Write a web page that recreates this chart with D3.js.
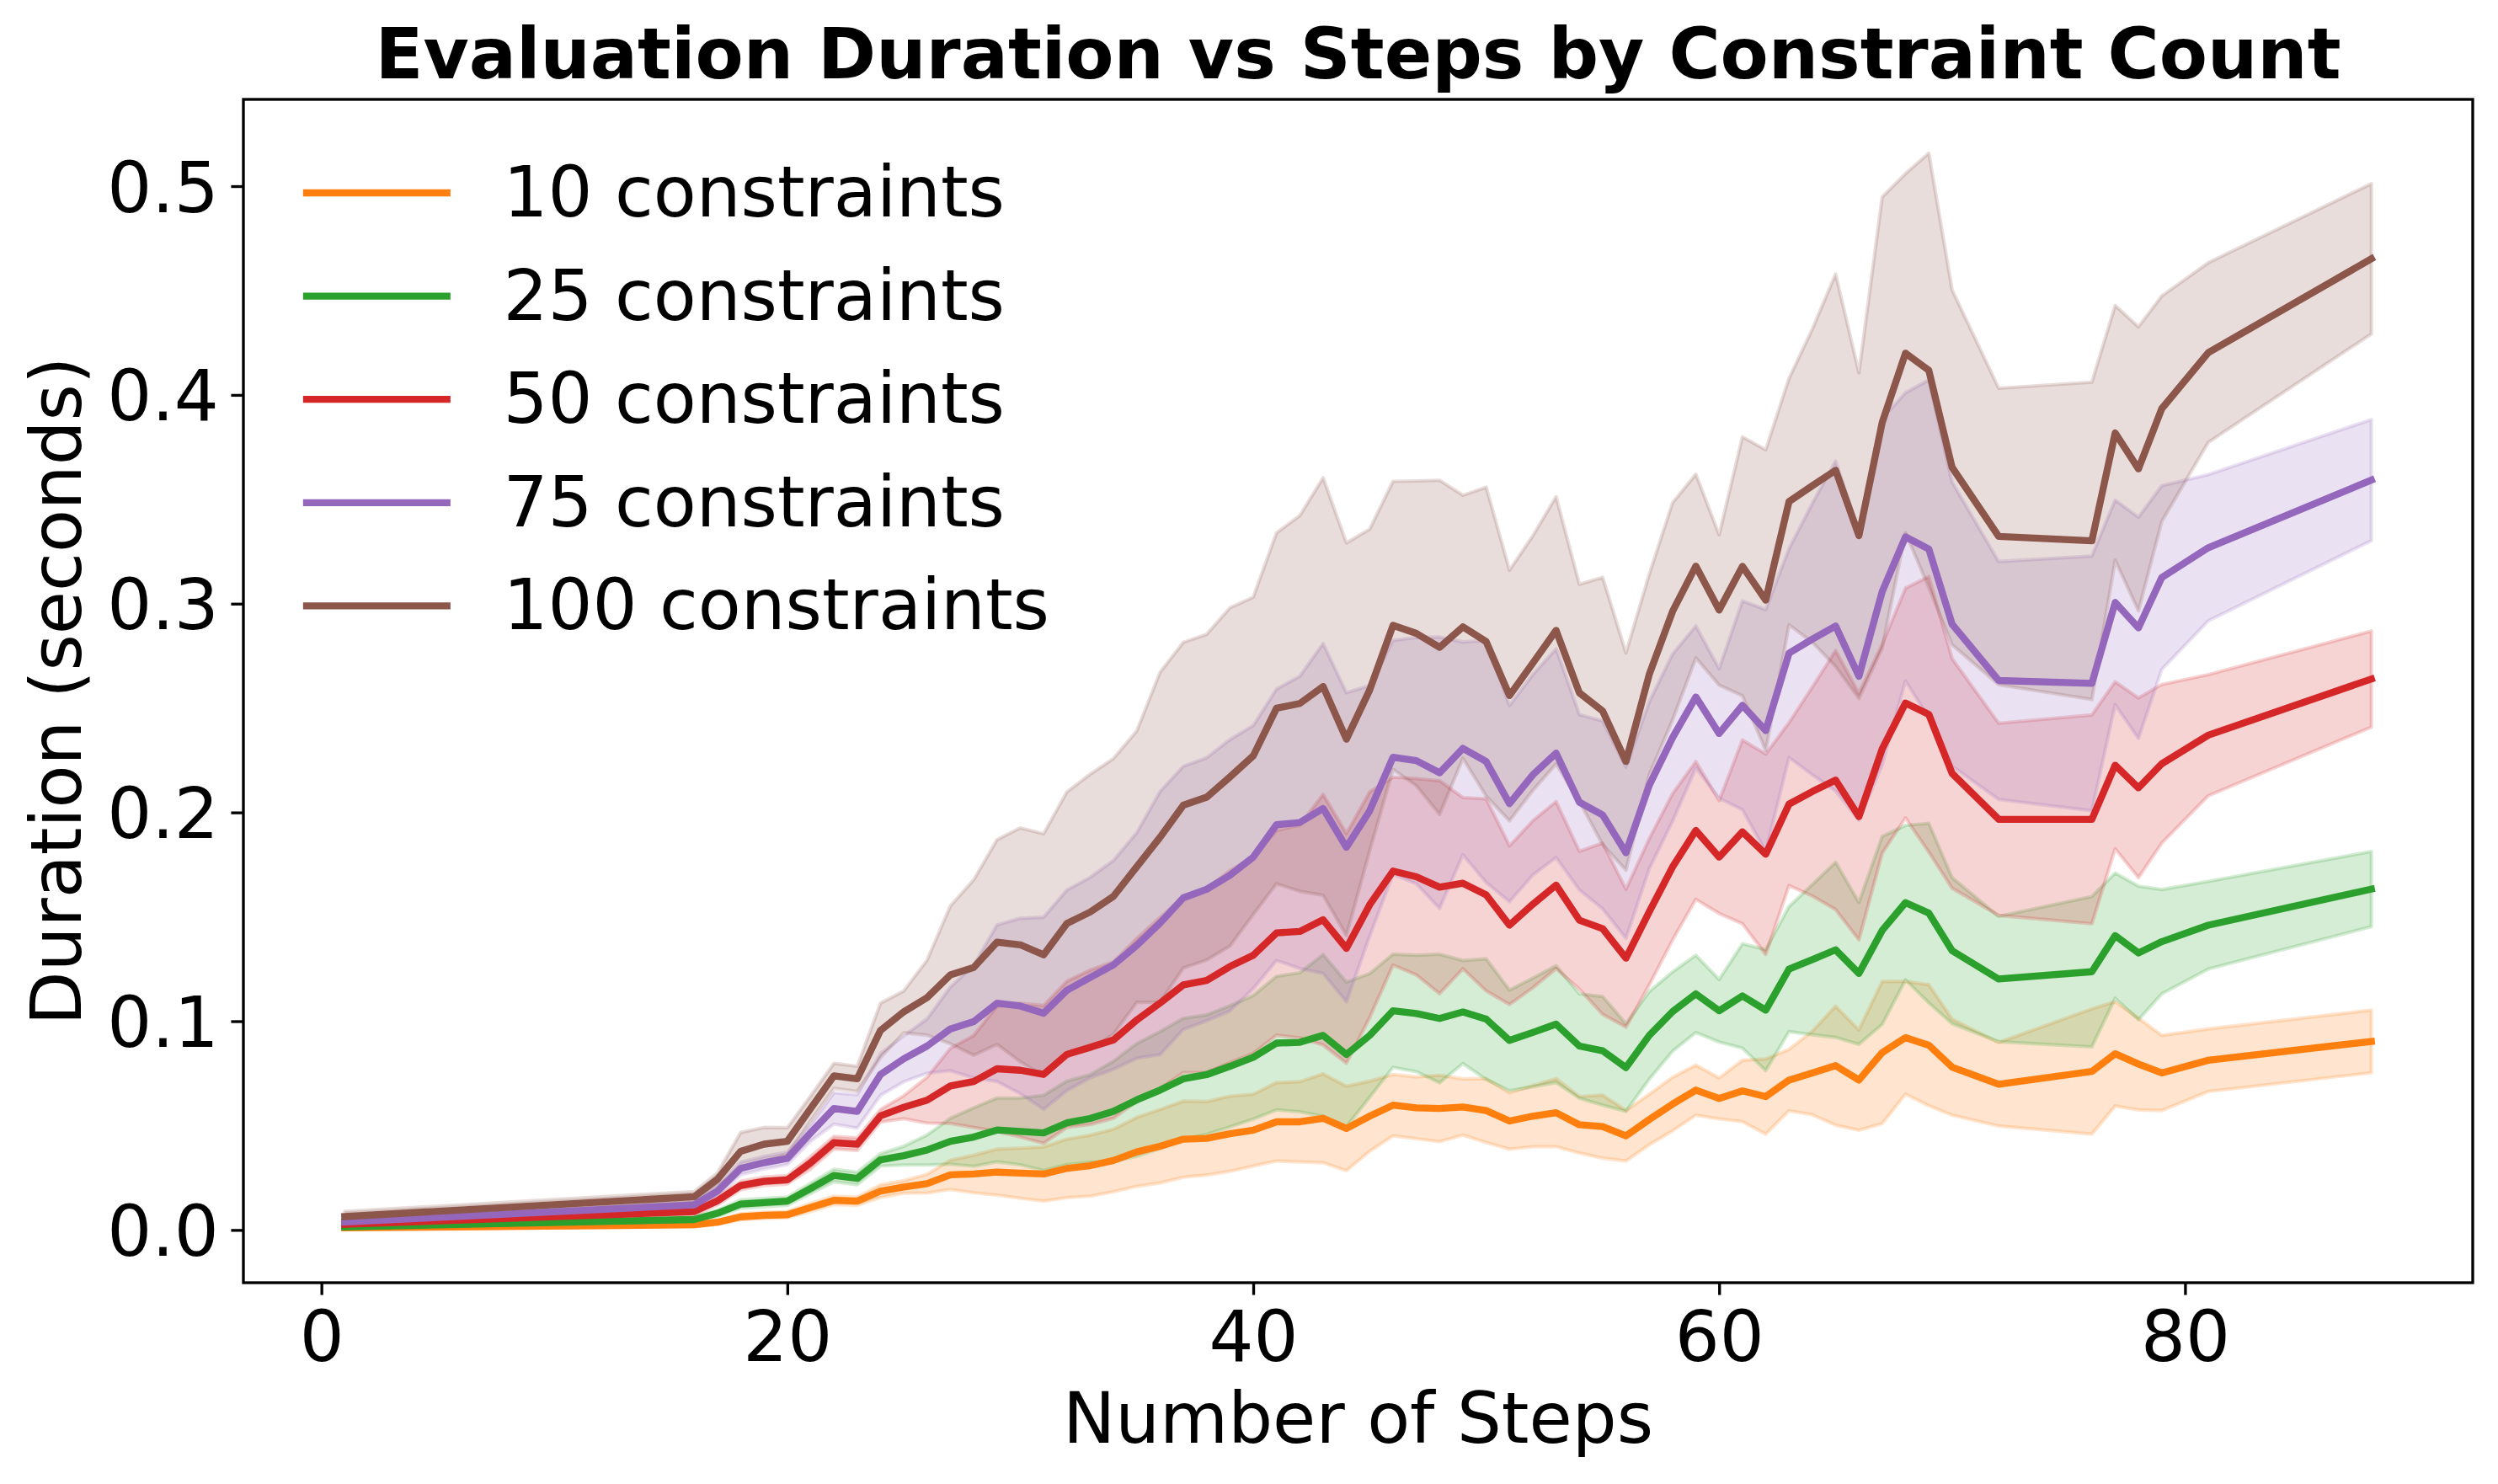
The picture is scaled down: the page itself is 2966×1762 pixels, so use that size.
<!DOCTYPE html>
<html>
<head>
<meta charset="utf-8">
<script src="https://cdn.jsdelivr.net/npm/d3@7"></script>
<style>
  body { margin: 0; background: #fff; }
  text { font-family: "DejaVu Sans", sans-serif; }
</style>
</head>
<body>
<svg id="chart" width="2966" height="1762"></svg>
<script>
// steps where evaluations were recorded
const steps = [
  1,
  16, 17, 18, 19, 20, 21, 22, 23, 24, 25,
  26, 27, 28, 29, 30, 31, 32, 33, 34, 35,
  36, 37, 38, 39, 40, 41, 42, 43, 44, 45,
  46, 47, 48, 49, 50, 51, 52, 53, 54, 55,
  56, 57, 58, 59, 60, 61, 62, 63, 64, 65,
  66, 67, 68, 69, 70,
  72, 76, 77, 78, 79, 81, 88
];

const labels = ["10 constraints", "25 constraints", "50 constraints", "75 constraints", "100 constraints"];
const colors = ["#ff7f0e", "#2ca02c", "#d62728", "#9467bd", "#8c564b"];

// mean duration (s) and half width of the shaded band
const mean10 = [
  0.0010,
  0.0025, 0.0037, 0.0063, 0.0070, 0.0073, 0.0108, 0.0142, 0.0138, 0.0186, 0.0206,
  0.0222, 0.0264, 0.0268, 0.0277, 0.0272, 0.0268, 0.0295, 0.0308, 0.0333, 0.0374,
  0.0401, 0.0435, 0.0439, 0.0461, 0.0478, 0.0518, 0.0518, 0.0535, 0.0486, 0.0545,
  0.0598, 0.0585, 0.0582, 0.0589, 0.0572, 0.0522, 0.0545, 0.0562, 0.0504, 0.0495,
  0.0451, 0.0529, 0.0603, 0.0670, 0.0630, 0.0666, 0.0639, 0.0718, 0.0752, 0.0787,
  0.0718, 0.0850, 0.0921, 0.0885, 0.0780,
  0.0698, 0.0759, 0.0844, 0.0795, 0.0752, 0.0813, 0.0903
];
const err10 = [
  0.0005,
  0.001, 0.001, 0.0015, 0.0015, 0.0015, 0.002, 0.002, 0.002, 0.003, 0.003,
  0.0045, 0.007, 0.009, 0.011, 0.012, 0.013, 0.014, 0.0146, 0.015, 0.0165,
  0.0176, 0.0182, 0.0176, 0.018, 0.0172, 0.0188, 0.0192, 0.0213, 0.0202, 0.0168,
  0.0147, 0.0148, 0.0159, 0.0135, 0.0153, 0.0135, 0.0146, 0.0163, 0.0135, 0.0151,
  0.0121, 0.0121, 0.0128, 0.012, 0.0098, 0.0147, 0.018, 0.0147, 0.020, 0.0285,
  0.024, 0.034, 0.027, 0.029, 0.023,
  0.020, 0.030, 0.025, 0.022, 0.018, 0.015, 0.015
];

const mean25 = [
  0.0015,
  0.0050, 0.0080, 0.0124, 0.0131, 0.0138, 0.0199, 0.0261, 0.0247, 0.0336, 0.0356,
  0.0383, 0.0425, 0.0445, 0.0479, 0.0472, 0.0465, 0.0513, 0.0534, 0.0568, 0.0623,
  0.0670, 0.0724, 0.0744, 0.0784, 0.0827, 0.0895, 0.0899, 0.0932, 0.0841, 0.0932,
  0.1050, 0.1037, 0.1013, 0.1044, 0.1010, 0.0908, 0.0946, 0.0986, 0.0881, 0.0858,
  0.0778, 0.0932, 0.1046, 0.1131, 0.1050, 0.1121, 0.1053, 0.1250, 0.1295, 0.1342,
  0.1229, 0.1435, 0.1568, 0.1518, 0.1338,
  0.1202, 0.1237, 0.1410, 0.1327, 0.1381, 0.1460, 0.1633
];
const err25 = [
  0.001,
  0.0015, 0.0015, 0.002, 0.002, 0.002, 0.0025, 0.003, 0.003, 0.003, 0.0045,
  0.0072, 0.011, 0.014, 0.0153, 0.016, 0.018, 0.020, 0.021, 0.024, 0.027,
  0.028, 0.029, 0.0286, 0.029, 0.0296, 0.032, 0.0333, 0.0387, 0.0346, 0.0296,
  0.0271, 0.0279, 0.0308, 0.0247, 0.0289, 0.0241, 0.026, 0.028, 0.025, 0.026,
  0.021, 0.021, 0.019, 0.0185, 0.015, 0.025, 0.029, 0.030, 0.036, 0.042,
  0.034, 0.045, 0.037, 0.043, 0.035,
  0.030, 0.036, 0.030, 0.032, 0.025, 0.021, 0.018
];

const mean50 = [
  0.0027,
  0.0088, 0.0140, 0.0213, 0.0233, 0.0240, 0.0322, 0.0418, 0.0411, 0.0547, 0.0588,
  0.0622, 0.0690, 0.0711, 0.0772, 0.0765, 0.0745, 0.0841, 0.0875, 0.0910, 0.1006,
  0.1087, 0.1174, 0.1195, 0.1262, 0.1316, 0.1423, 0.1430, 0.1486, 0.1349, 0.1558,
  0.1719, 0.1692, 0.1642, 0.1661, 0.1605, 0.1460, 0.1560, 0.1652, 0.1484, 0.1443,
  0.1302, 0.1524, 0.1739, 0.1914, 0.1786, 0.1907, 0.1800, 0.2040, 0.2100, 0.2155,
  0.1980, 0.2305, 0.2524, 0.2470, 0.2187,
  0.1967, 0.1967, 0.2226, 0.2118, 0.2233, 0.2370, 0.2639
];
const err50 = [
  0.001,
  0.0015, 0.002, 0.002, 0.002, 0.002, 0.003, 0.003, 0.003, 0.003, 0.0055,
  0.011, 0.018, 0.022, 0.030, 0.032, 0.033, 0.035, 0.037, 0.0375, 0.039,
  0.041, 0.042, 0.044, 0.046, 0.047, 0.049, 0.051, 0.060, 0.055, 0.054,
  0.045, 0.047, 0.051, 0.041, 0.046, 0.038, 0.040, 0.040, 0.033, 0.041,
  0.033, 0.035, 0.035, 0.033, 0.027, 0.044, 0.048, 0.039, 0.050, 0.062,
  0.059, 0.050, 0.055, 0.066, 0.055,
  0.046, 0.050, 0.040, 0.043, 0.038, 0.029, 0.023
];

const mean75 = [
  0.0038,
  0.0120, 0.0186, 0.0295, 0.0322, 0.0343, 0.0465, 0.0582, 0.0568, 0.0745, 0.0820,
  0.0881, 0.0963, 0.0998, 0.1086, 0.1073, 0.1038, 0.1148, 0.1209, 0.1270, 0.1363,
  0.1470, 0.1591, 0.1632, 0.1699, 0.1786, 0.1941, 0.1952, 0.2019, 0.1833, 0.2008,
  0.2264, 0.2248, 0.2190, 0.2307, 0.2244, 0.2042, 0.2180, 0.2284, 0.2049, 0.1988,
  0.1807, 0.2130, 0.2358, 0.2553, 0.2378, 0.2513, 0.2392, 0.2763, 0.2830, 0.2893,
  0.2652, 0.3058, 0.3320, 0.3262, 0.2902,
  0.2632, 0.2618, 0.3006, 0.2884, 0.3125, 0.3268, 0.3592
];
const err75 = [
  0.0015,
  0.002, 0.0025, 0.003, 0.003, 0.003, 0.004, 0.0075, 0.008, 0.010, 0.011,
  0.013, 0.020, 0.027, 0.0375, 0.042, 0.046, 0.048, 0.048, 0.050, 0.054,
  0.063, 0.063, 0.063, 0.065, 0.063, 0.065, 0.070, 0.079, 0.074, 0.060,
  0.056, 0.059, 0.065, 0.051, 0.058, 0.047, 0.048, 0.050, 0.042, 0.045,
  0.041, 0.040, 0.040, 0.034, 0.031, 0.050, 0.058, 0.050, 0.065, 0.079,
  0.069, 0.083, 0.069, 0.081, 0.068,
  0.057, 0.061, 0.049, 0.053, 0.044, 0.035, 0.029
];

const mean100 = [
  0.0064,
  0.0159, 0.0243, 0.0377, 0.0411, 0.0425, 0.0582, 0.0738, 0.0724, 0.0956, 0.1045,
  0.1113, 0.1222, 0.1257, 0.1379, 0.1366, 0.1318, 0.1468, 0.1523, 0.1598, 0.1740,
  0.1881, 0.2035, 0.2073, 0.2170, 0.2271, 0.2499, 0.2522, 0.2603, 0.2351, 0.2587,
  0.2896, 0.2858, 0.2791, 0.2889, 0.2818, 0.2560, 0.2715, 0.2872, 0.2573, 0.2486,
  0.2244, 0.2661, 0.2963, 0.3180, 0.2970, 0.3179, 0.3017, 0.3489, 0.3565, 0.3639,
  0.3326, 0.3868, 0.4200, 0.4118, 0.3653,
  0.3322, 0.3301, 0.3818, 0.3646, 0.3934, 0.4203, 0.4652
];
const err100 = [
  0.0025,
  0.0025, 0.003, 0.009, 0.008, 0.0065, 0.006, 0.006, 0.006, 0.013, 0.010,
  0.018, 0.033, 0.042, 0.049, 0.056, 0.058, 0.063, 0.066, 0.066, 0.065,
  0.079, 0.078, 0.078, 0.081, 0.076, 0.084, 0.090, 0.100, 0.094, 0.077,
  0.069, 0.073, 0.080, 0.063, 0.074, 0.060, 0.061, 0.064, 0.052, 0.064,
  0.052, 0.048, 0.052, 0.044, 0.036, 0.062, 0.072, 0.059, 0.075, 0.094,
  0.078, 0.108, 0.086, 0.104, 0.085,
  0.071, 0.076, 0.061, 0.068, 0.054, 0.043, 0.036
];

const xTicks = [0, 20, 40, 60, 80];
const yTicks = [0.0, 0.1, 0.2, 0.3, 0.4, 0.5];

const series = [
  { label: labels[0], color: colors[0], mean: mean10, err: err10 },
  { label: labels[1], color: colors[1], mean: mean25, err: err25 },
  { label: labels[2], color: colors[2], mean: mean50, err: err50 },
  { label: labels[3], color: colors[3], mean: mean75, err: err75 },
  { label: labels[4], color: colors[4], mean: mean100, err: err100 }
];

// figure geometry (300 dpi matplotlib look)
const pt = 300 / 72;
const fontSize = 20 * pt;
const plot = { left: 289, right: 2936, top: 118, bottom: 1523 };

const svg = d3.select("#chart");
svg.append("rect").attr("width", 2966).attr("height", 1762).attr("fill", "#fff");

// autoscale with 5% margins like matplotlib
const xMin = d3.min(steps), xMax = d3.max(steps);
const xPad = (xMax - xMin) * 0.05;
let lo = Infinity, hi = -Infinity;
series.forEach(s => s.mean.forEach((m, i) => {
  lo = Math.min(lo, m - s.err[i]);
  hi = Math.max(hi, m + s.err[i]);
}));
const yPad = (hi - lo) * 0.05;

const x = d3.scaleLinear().domain([xMin - xPad, xMax + xPad]).range([plot.left, plot.right]);
const y = d3.scaleLinear().domain([lo - yPad, hi + yPad]).range([plot.bottom, plot.top]);

const g = svg.append("g");

// bands first (collections sit under lines)
const area = d3.area()
  .x(d => x(d.step))
  .y0(d => y(d.m - d.e))
  .y1(d => y(d.m + d.e));

const line = d3.line()
  .x(d => x(d.step))
  .y(d => y(d.m));

series.forEach(s => {
  s.points = steps.map((st, i) => ({ step: st, m: s.mean[i], e: s.err[i] }));
});

series.forEach(s => {
  g.append("path")
    .datum(s.points)
    .attr("d", area)
    .attr("fill", s.color)
    .attr("fill-opacity", 0.2)
    .attr("stroke", s.color)
    .attr("stroke-opacity", 0.2)
    .attr("stroke-width", 1 * pt)
    .attr("stroke-linejoin", "round");
});

series.forEach(s => {
  g.append("path")
    .datum(s.points)
    .attr("d", line)
    .attr("fill", "none")
    .attr("stroke", s.color)
    .attr("stroke-width", 2 * pt)
    .attr("stroke-linejoin", "round")
    .attr("stroke-linecap", "square");
});

// axes
const tickLen = 3.5 * pt, tickPad = 3.5 * pt;

const xAxis = svg.append("g")
  .attr("transform", "translate(0," + plot.bottom + ")")
  .call(d3.axisBottom(x).tickValues(xTicks).tickFormat(d3.format("d"))
    .tickSize(tickLen).tickPadding(tickPad));

const yAxis = svg.append("g")
  .attr("transform", "translate(" + plot.left + ",0)")
  .call(d3.axisLeft(y).tickValues(yTicks).tickFormat(d3.format(".1f"))
    .tickSize(tickLen).tickPadding(tickPad));

[xAxis, yAxis].forEach(a => {
  a.select(".domain").remove();
  a.selectAll(".tick line").attr("stroke", "#000").attr("stroke-width", 0.8 * pt);
  a.selectAll(".tick text")
    .attr("fill", "#000")
    .style("font-family", "'DejaVu Sans', sans-serif")
    .style("font-size", fontSize + "px");
});
xAxis.selectAll(".tick text").attr("dy", "0.76em");
yAxis.selectAll(".tick text").attr("dy", "0.36em");

// frame
svg.append("rect")
  .attr("x", plot.left).attr("y", plot.top)
  .attr("width", plot.right - plot.left).attr("height", plot.bottom - plot.top)
  .attr("fill", "none")
  .attr("stroke", "#000")
  .attr("stroke-width", 0.8 * pt);

// labels
svg.append("text")
  .attr("x", (plot.left + plot.right) / 2)
  .attr("y", 93)
  .attr("text-anchor", "middle")
  .style("font-size", fontSize + "px")
  .style("font-weight", "bold")
  .text("Evaluation Duration vs Steps by Constraint Count");

svg.append("text")
  .attr("x", (plot.left + plot.right) / 2)
  .attr("y", 1713)
  .attr("text-anchor", "middle")
  .style("font-size", fontSize + "px")
  .text("Number of Steps");

svg.append("text")
  .attr("transform", "translate(96," + (plot.top + plot.bottom) / 2 + ") rotate(-90)")
  .attr("text-anchor", "middle")
  .style("font-size", fontSize + "px")
  .text("Duration (seconds)");

// legend, no frame
const legend = svg.append("g");
const rowGap = 122.6;
series.forEach((s, i) => {
  const ly = 229 + i * rowGap;
  legend.append("line")
    .attr("x1", 364).attr("x2", 530.7)
    .attr("y1", ly).attr("y2", ly)
    .attr("stroke", s.color)
    .attr("stroke-width", 2 * pt)
    .attr("stroke-linecap", "square");
  legend.append("text")
    .attr("x", 597.4)
    .attr("y", ly + 28)
    .style("font-size", fontSize + "px")
    .text(s.label);
});
</script>
</body>
</html>
